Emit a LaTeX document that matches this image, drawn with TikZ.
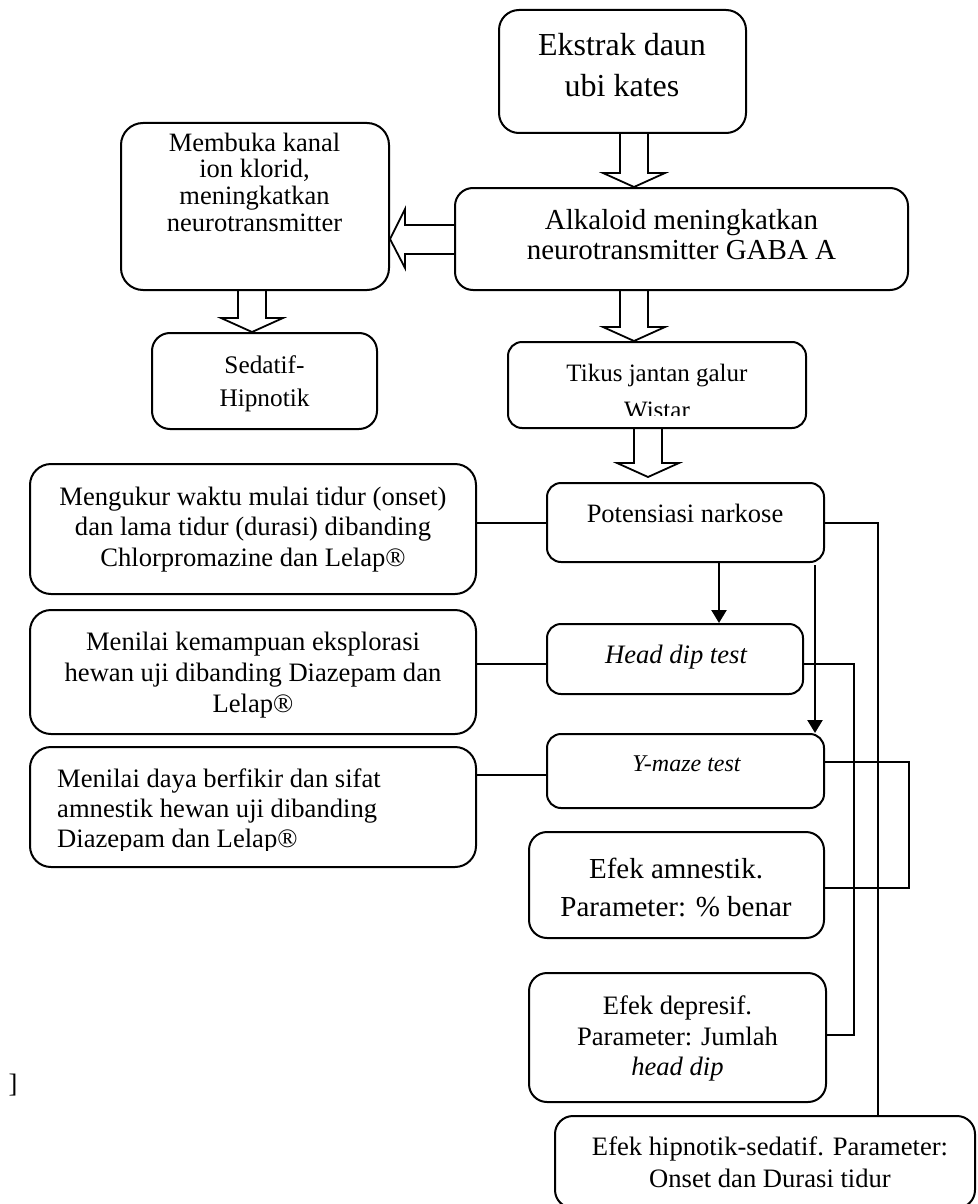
\documentclass[tikz,border=0pt]{standalone}
\usepackage{fontspec}
\setmainfont{Liberation Serif}
\usetikzlibrary{arrows.meta,calc}
\newcommand\fsz[2]{\fontsize{#1pt}{#2pt}\selectfont}
% vertical hollow block arrow: from node, to node, x centre, gap above target
\newcommand\vblk[4]{\draw[blk] let \p1=(#1.south), \p2=(#2.north) in
 (#3pt-14pt,\y1) -- (#3pt-14pt,\y2+#4pt+14pt) -- (#3pt-31pt,\y2+#4pt+14pt) -- (#3pt,\y2+#4pt)
 -- (#3pt+31pt,\y2+#4pt+14pt) -- (#3pt+14pt,\y2+#4pt+14pt) -- (#3pt+14pt,\y1);}
\begin{document}
\begin{tikzpicture}[x=1pt,y=-1pt,
  rbox/.style={draw,line width=2pt,rounded corners=18pt,inner sep=0pt},
  sbox/.style={rbox,rounded corners=14pt},
  txt/.style={inner sep=0pt,align=center},
  conn/.style={line width=1.4pt},
  thk/.style={line width=2.3pt,-{Triangle[width=15pt,length=13pt]}},
  blk/.style={draw,line width=1.8pt,line join=miter}]
\useasboundingbox (0,0) rectangle (977,1204);

% boxes
\node[rbox,rounded corners=20pt,minimum width=247pt,minimum height=123pt] (ek) at (622.5,71.5) {};
\node[rbox,minimum width=453pt,minimum height=102pt] (alk) at (681.5,239) {};
\node[rbox,rounded corners=22pt,minimum width=268pt,minimum height=167pt] (mem) at (255,206.5) {};
\node[rbox,minimum width=225pt,minimum height=96pt] (sed) at (264.5,381) {};
\node[sbox,minimum width=298pt,minimum height=86pt] (tik) at (657,385) {};
\node[sbox,minimum width=277pt,minimum height=79pt] (pot) at (685.5,522.5) {};
\node[sbox,minimum width=256pt,minimum height=70pt] (hd) at (675,659) {};
\node[sbox,minimum width=277pt,minimum height=74pt] (ym) at (685.5,771) {};
\node[rbox,rounded corners=21pt,minimum width=446pt,minimum height=130pt] (meng) at (253,529) {};
\node[rbox,rounded corners=21pt,minimum width=446pt,minimum height=124pt] (mk) at (253,672) {};
\node[rbox,rounded corners=21pt,minimum width=446pt,minimum height=120pt] (md) at (253,807) {};
\node[rbox,minimum width=295pt,minimum height=106pt] (amn) at (676.5,885) {};
\node[rbox,minimum width=297pt,minimum height=129pt] (dep) at (677.5,1037.5) {};
\node[rbox,minimum width=420pt,minimum height=92pt] (hip) at (765,1162) {};

% texts
\node[txt,font=\fsz{32}{41}] (ekT) at (622,65.5) {Ekstrak daun\\ubi kates};
\node[txt,font=\fsz{29}{30}] (alkT) at (681.5,235) {Alkaloid meningkatkan\\neurotransmitter GABA A};
\node[txt,font=\fsz{26.5}{26.7}] (memT) at (254.5,182) {Membuka kanal\\ion klorid,\\meningkatkan\\neurotransmitter};
\node[txt,font=\fsz{25.3}{33}] (sedT) at (264.5,384) {Sedatif-\\Hipnotik};
\begin{scope}
\clip (510,344) rectangle (804,415);
\node[inner sep=0pt,anchor=base,font=\fsz{25}{35}] (tikT1) at (657,381) {Tikus jantan galur};
\node[inner sep=0pt,anchor=base,font=\fsz{25}{35}] (tikT2) at (657,418) {Wistar};
\end{scope}
\node[inner sep=0pt,anchor=base,font=\fsz{26.5}{31}] (potT) at (685,522) {Potensiasi narkose};
\node[inner sep=0pt,anchor=base,font=\fsz{26.6}{31}\itshape] (hdT) at (676,663) {Head dip test};
\node[inner sep=0pt,anchor=base,font=\fsz{24}{30}\itshape] (ymT) at (686.5,771) {Y-maze test};
\node[txt,font=\fsz{26.6}{30.8}] (mengT) at (253,529.5) {Mengukur waktu mulai tidur (onset)\\dan lama tidur (durasi) dibanding\\Chlorpromazine dan Lelap®};
\node[txt,font=\fsz{26.6}{31}] (mkT) at (253,674.6) {Menilai kemampuan eksplorasi\\hewan uji dibanding Diazepam dan\\Lelap®};
\begin{scope}
\clip (32,749) rectangle (474,850);
\node[inner sep=0pt,anchor=base west,font=\fsz{26.6}{30}] (mdT1) at (57,787) {Menilai daya berfikir dan sifat};
\node[inner sep=0pt,anchor=base west,font=\fsz{26.6}{30}] (mdT2) at (57,817) {amnestik hewan uji dibanding};
\node[inner sep=0pt,anchor=base west,font=\fsz{26.6}{30}] (mdT3) at (57,847) {Diazepam dan Lelap®};
\end{scope}
\node[txt,font=\fsz{29}{38}] (amnT) at (676,887.3) {Efek amnestik.\\Parameter: \% benar};
\node[txt,font=\fsz{26.6}{30.5}] (depT) at (677.5,1038.5) {Efek depresif.\\Parameter: Jumlah\\\textit{head dip}};
\node[txt,font=\fsz{26.6}{31.7}] (hipT) at (770,1162) {Efek hipnotik-sedatif. Parameter:\\Onset dan Durasi tidur};
\node[inner sep=0pt,font=\fsz{26.6}{30}] (brk) at (13,1085) {]};

% hollow block arrows
\vblk{ek}{alk}{634}{0}
\vblk{alk}{tik}{634}{0}
\vblk{tik}{pot}{648}{5}
\vblk{mem}{sed}{252}{0}
\draw[blk] let \p1=(alk.west), \p2=(mem.east) in
  (\x1,-225pt) -- (\x2+15pt,-225pt) -- (\x2+15pt,-209pt) -- (\x2,-239pt)
  -- (\x2+15pt,-268pt) -- (\x2+15pt,-254pt) -- (\x1,-254pt);

% thick arrows
\coordinate (a1) at (719,0);
\coordinate (a2) at (815,0);
\draw[thk] (pot.south -| a1) -- (hd.north -| a1);
\draw[thk] ($(pot.south -| a2)+(0,2)$) -- (ym.north -| a2);

% left connectors
\coordinate (y1) at (0,523);
\coordinate (y2) at (0,664);
\coordinate (y3) at (0,775);
\draw[conn] (meng.east |- y1) -- (pot.west |- y1);
\draw[conn] (mk.east |- y2) -- (hd.west |- y2);
\draw[conn] (md.east |- y3) -- (ym.west |- y3);

% right connectors
\coordinate (c1) at (878,523);
\draw[conn] (pot.east |- c1) -- (c1) -- (c1 |- hip.north);
\coordinate (c2) at (854,664);
\coordinate (c2b) at (854,1035);
\draw[conn] (hd.east |- c2) -- (c2) -- (c2b) -- (dep.east |- c2b);
\coordinate (c3) at (909,762);
\coordinate (c3b) at (909,888);
\draw[conn] (ym.east |- c3) -- (c3) -- (c3b) -- (amn.east |- c3b);
\end{tikzpicture}
\end{document}
